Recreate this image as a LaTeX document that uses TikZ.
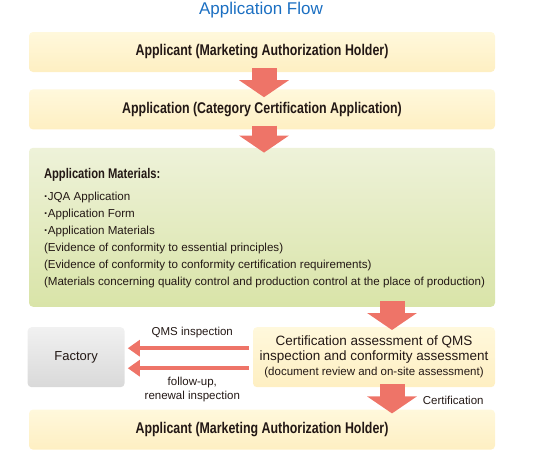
\documentclass[tikz,border=0pt]{standalone}
\usepackage{fontspec}
\setmainfont{Liberation Sans}
\newfontfamily\narrowfont[FakeStretch=0.8]{Liberation Sans}
\usetikzlibrary{positioning,arrows.meta}

\definecolor{flowblue}{HTML}{1B6FC2}
\definecolor{flowred}{HTML}{EE7468}
\definecolor{flowtext}{HTML}{231815}
\definecolor{yellowtop}{HTML}{FFF8DC}
\definecolor{yellowbot}{HTML}{FEEFC2}
\definecolor{greentop}{HTML}{EEF2D9}
\definecolor{greenbot}{HTML}{D9E4A8}
\definecolor{greytop}{HTML}{F1F1F1}
\definecolor{greybot}{HTML}{D9D9D9}

\tikzset{
  flowbox/.style={rounded corners=4pt, inner sep=0pt, text=flowtext},
  stagebox/.style={flowbox, top color=yellowtop, bottom color=yellowbot,
    minimum width=466pt, minimum height=40pt,
    font=\narrowfont\bfseries\fontsize{15.5}{18}\selectfont},
  bigarrow/.style={draw=flowred, line width=25pt,
    -{Triangle[width=49pt,length=17pt,fill=flowred]}},
  sidearrow/.style={draw=flowred, line width=4pt,
    -{Triangle[width=16pt,length=12pt,fill=flowred]}},
  note/.style={text=flowtext, font=\fontsize{11.5}{14}\selectfont, align=center},
}

\begin{document}
\begin{tikzpicture}
  \useasboundingbox (0,0) rectangle (540pt,-450pt);

  \node[text=flowblue, font=\fontsize{17}{20}\selectfont] (title) at (261pt,-10pt) {Application Flow};

  \node[stagebox] (holder) at (262pt,-52pt) {Applicant (Marketing Authorization Holder)};
  \node[stagebox, below=17pt of holder] (application) {Application (Category Certification Application)};
  \node[flowbox, top color=greentop, bottom color=greenbot, minimum width=466pt,
    minimum height=159pt, below=18pt of application] (materials) {};
  \node[anchor=north west, align=left, inner sep=0pt, text=flowtext,
    font=\fontsize{11.6}{17}\selectfont] (matlist) at ([xshift=15pt,yshift=-21pt]materials.north west)
    {{\narrowfont\bfseries\fontsize{14}{17}\selectfont Application Materials:}\\[5pt]
     {\bfseries ·}JQA Application\\
     {\bfseries ·}Application Form\\
     {\bfseries ·}Application Materials\\
     (Evidence of conformity to essential principles)\\
     (Evidence of conformity to conformity certification requirements)\\
     (Materials concerning quality control and production control at the place of production)};

  \node[flowbox, top color=yellowtop, bottom color=yellowbot, minimum width=242pt,
    minimum height=60pt, align=center, font=\fontsize{13.5}{15}\selectfont,
    below left=20pt and 0pt of materials.south east] (assessment)
    {Certification assessment of QMS\\ inspection and conformity assessment\\
     {\fontsize{11.5}{15}\selectfont (document review and on-site assessment)}};
  \node[flowbox, top color=greytop, bottom color=greybot, minimum width=97pt,
    minimum height=60pt, font=\fontsize{13}{15}\selectfont,
    left=128pt of assessment] (factory) {Factory};

  \coordinate (assessfoot) at (assessment.south -| holder.south);
  \node[stagebox, below=22pt of assessfoot] (certified) {Applicant (Marketing Authorization Holder)};

  % main flow
  \draw[bigarrow] ([xshift=2pt,yshift=4pt]holder.south) -- ([xshift=2pt,yshift=-8pt]application.north);
  \draw[bigarrow] ([xshift=2pt,yshift=4pt]application.south) -- ([xshift=2pt,yshift=-5pt]materials.north);
  \draw[bigarrow] ([xshift=18pt,yshift=26pt]assessment.north) -- ([xshift=18pt,yshift=-3pt]assessment.north);
  \coordinate (flowx) at ([xshift=18pt]assessment.south);
  \coordinate (certtop) at (flowx |- certified.north);
  \draw[bigarrow] ([yshift=3pt]flowx) -- ([yshift=-4pt]certtop)
    node[note, pos=0.55, right=15pt] (certlabel) {Certification};

  % inspections at the factory
  \draw[sidearrow] ([xshift=-4pt,yshift=9pt]assessment.west) -- ([xshift=3pt,yshift=9pt]factory.east)
    node[note, midway, above=5pt, xshift=4pt] (qmslabel) {QMS inspection};
  \draw[sidearrow] ([xshift=-4pt,yshift=-11pt]assessment.west) -- ([xshift=3pt,yshift=-11pt]factory.east)
    node[note, midway, below=4pt, xshift=4pt] (renewlabel) {follow-up,\\ renewal inspection};
\end{tikzpicture}
\end{document}
